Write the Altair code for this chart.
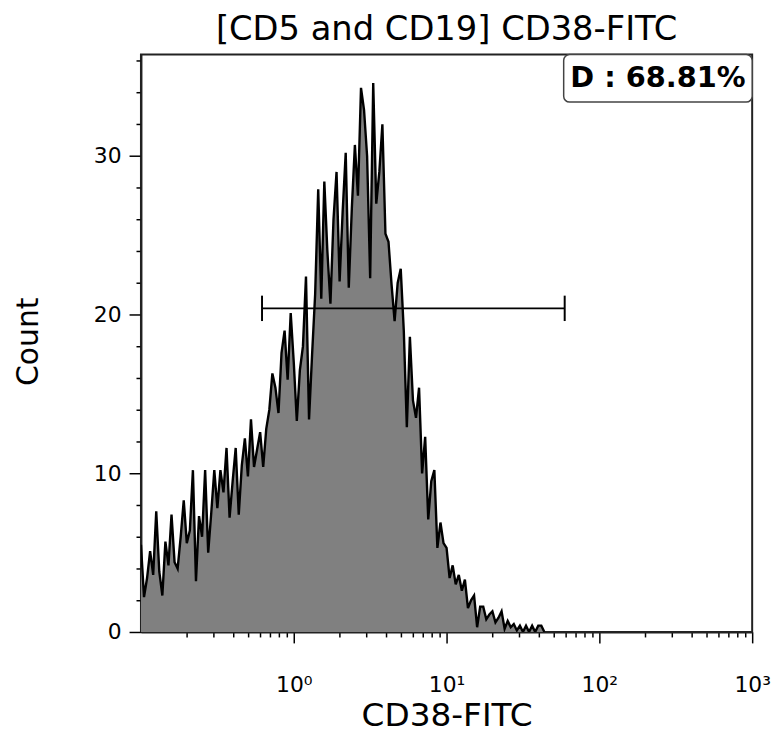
import altair as alt
import pandas as pd

# ---- data ----
LOG_START = -1.0      # first histogram channel, log10 of CD38-FITC
LOG_STEP = 0.02       # channel width in decades
counts = [
    5.5, 2.2, 3.4, 5.1, 3.6, 7.6, 3.8, 2.3, 5.7, 4.2,
    7.4, 4.4, 4.0, 6.0, 8.3, 5.6, 6.4, 10.2, 3.2, 7.3,
    6.0, 10.2, 5.0, 7.5, 10.2, 7.8, 10.2, 8.8, 11.6, 7.2,
    9.5, 11.6, 7.4, 10.5, 12.2, 9.8, 13.4, 10.4, 11.5, 12.6,
    10.4, 12.8, 14.0, 16.3, 15.4, 13.8, 17.6, 19.0, 15.9, 20.1,
    17.0, 13.3, 16.5, 18.0, 22.4, 13.4, 17.5, 21.3, 27.9, 21.0,
    28.4, 24.0, 20.7, 26.0, 29.0, 22.1, 26.5, 30.2, 21.7, 26.7,
    30.7, 27.5, 34.3, 32.9, 30.0, 22.3, 34.6, 27.0, 29.0, 32.0,
    25.1, 24.6, 21.9, 19.6, 22.0, 22.9, 19.0, 12.9, 18.6, 14.6,
    13.5, 15.4, 10.0, 12.3, 7.1, 9.5, 10.2, 5.3, 6.9, 5.6,
    5.3, 3.4, 4.2, 3.0, 3.6, 2.6, 3.3, 1.5, 2.0, 2.3,
    0.3, 1.6, 1.6, 0.8, 1.1, 1.3, 0.6, 0.9, 1.3, 0.2,
    0.7, 0.3, 0.5, 0.1, 0.4, 0.0, 0.4, 0.0, 0.4, 0.0,
    0.4, 0.4, 0.0,
]
cd38 = [10 ** (LOG_START + LOG_STEP * i) for i in range(len(counts))]

x_domain = [0.1, 1000]
y_domain = [0, 36.4]
x_major = [1, 10, 100, 1000]
x_minor = [m * d for d in [0.1, 1, 10, 100] for m in range(2, 10)]
y_ticks = list(range(0, 37, 2))

gate_lo, gate_hi, gate_level = 0.62, 59.3, 20.4
gate_cap = [19.6, 21.2]
label_text = "D : 68.81%"
label_box_x = [58.4, 1000]
label_box_y = [33.4, 36.4]

title_text = "[CD5 and CD19] CD38-FITC"
x_title = "CD38-FITC"
y_title = "Count"

FONT = "DejaVu Sans"
W, H = 616, 582

hist = pd.DataFrame({"x": cd38, "count": counts})

xscale = alt.Scale(type="log", domain=x_domain, nice=False)
yscale = alt.Scale(domain=y_domain, nice=False, zero=True)

label_expr = ("datum.value == 1 ? '10⁰' : datum.value == 10 ? '10¹' : "
              "datum.value == 100 ? '10²' : datum.value == 1000 ? '10³' : ''")

xaxis = alt.Axis(
    values=sorted(x_major + x_minor), tickCount=100,
    labelExpr=label_expr,
    labelFont=FONT, labelFontSize=22, labelColor="black",
    labelPadding=32, labelOverlap=False, labelFlush=False,
    tickSize={"condition": {"test": "indexof([1,10,100,1000], datum.value) >= 0", "value": 11}, "value": 5},
    tickColor="black", tickWidth=1.5,
    domainColor="#222", domainWidth=2,
    grid=False,
    title=x_title, titleFont=FONT, titleFontSize=33, titleFontWeight="normal",
    titleColor="black", titleX=W / 2, titleY=84, titleBaseline="middle", titleAlign="center",
)
yaxis = alt.Axis(
    values=y_ticks, tickCount=100, format="d",
    labelExpr="datum.value % 10 == 0 ? datum.label : ''",
    labelFont=FONT, labelFontSize=22, labelColor="black",
    labelPadding=8, labelOverlap=False,
    tickSize={"condition": {"test": "datum.value % 10 == 0", "value": 12}, "value": 5},
    tickColor="black", tickWidth=1.5,
    domainColor="#222", domainWidth=2,
    grid=False,
    title=y_title, titleFont=FONT, titleFontSize=30, titleFontWeight="normal",
    titleColor="black", titleAngle=270, titleX=-113, titleY=289,
    titleBaseline="middle", titleAlign="center",
)

base = alt.Chart(hist)
area = base.mark_area(color="#808080", clip=True).encode(
    x=alt.X("x:Q", scale=xscale, axis=xaxis),
    y=alt.Y("count:Q", scale=yscale, axis=yaxis),
)
line = base.mark_line(color="black", strokeWidth=2.4, strokeJoin="miter", clip=True).encode(
    x=alt.X("x:Q", scale=xscale),
    y=alt.Y("count:Q", scale=yscale),
)

gate_df = pd.DataFrame({"x": [gate_lo], "x2": [gate_hi], "y": [gate_level]})
gate = alt.Chart(gate_df).mark_rule(color="black", strokeWidth=1.8).encode(
    x=alt.X("x:Q", scale=xscale), x2="x2:Q", y=alt.Y("y:Q", scale=yscale)
)
caps_df = pd.DataFrame({"x": [gate_lo, gate_hi], "y": [gate_cap[0]] * 2, "y2": [gate_cap[1]] * 2})
caps = alt.Chart(caps_df).mark_rule(color="black", strokeWidth=2).encode(
    x=alt.X("x:Q", scale=xscale), y=alt.Y("y:Q", scale=yscale), y2="y2:Q"
)

box_df = pd.DataFrame({"x": [label_box_x[0]], "x2": [label_box_x[1]],
                       "y": [label_box_y[0]], "y2": [label_box_y[1]]})
box = alt.Chart(box_df).mark_rect(fill="white", stroke="#444", strokeWidth=1.5, cornerRadius=6).encode(
    x=alt.X("x:Q", scale=xscale), x2="x2:Q",
    y=alt.Y("y:Q", scale=yscale), y2="y2:Q"
)
txt_df = pd.DataFrame({"x": [(label_box_x[0] * label_box_x[1]) ** 0.5],
                       "y": [(label_box_y[0] + label_box_y[1]) / 2], "t": [label_text]})
txt = alt.Chart(txt_df).mark_text(font=FONT, fontSize=29, fontWeight="bold", color="black",
                                  baseline="middle", align="center").encode(
    x=alt.X("x:Q", scale=xscale), y=alt.Y("y:Q", scale=yscale), text="t:N"
)

# chart title drawn as a text mark centred above the plot area
title_mark = alt.Chart(pd.DataFrame({"t": [title_text]})).mark_text(
    font=FONT, fontSize=34, color="black", align="center", baseline="alphabetic", clip=False
).encode(x=alt.value(W / 2), y=alt.value(-15), text="t:N")

chart = alt.layer(area, line, gate, caps, box, txt, title_mark).properties(
    width=W, height=H,
    autosize=alt.AutoSizeParams(type="none"),
    padding={"left": 134, "top": 44, "right": 22, "bottom": 108},
).configure(background="white").configure_view(stroke="#222", strokeWidth=2)

chart.save("out.html", embed_options={"renderer": "svg", "actions": False})
